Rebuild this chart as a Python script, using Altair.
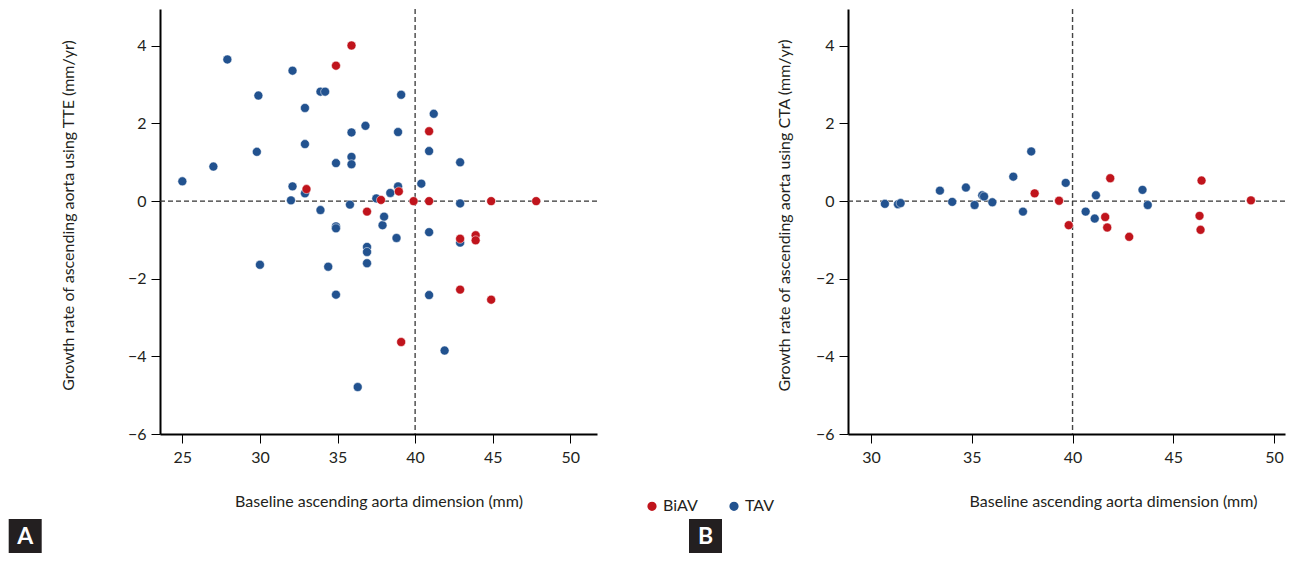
import altair as alt
import pandas as pd

# ---- Panel A: TTE ----
tte_tav_x = [25.0, 27.0, 27.9, 29.8, 29.9, 30.0, 32.1, 32.1, 32.0, 32.9, 32.9, 32.9,
             33.9, 34.2, 33.9, 34.4, 34.9, 34.9, 34.9, 34.9, 35.9, 35.9, 35.9, 35.8,
             36.3, 36.8, 36.9, 36.9, 36.9, 37.5, 37.9, 38.0, 38.4, 38.9, 38.9, 39.1,
             38.8, 40.4, 40.9, 41.2, 40.9, 40.9, 41.9, 42.9, 42.9, 42.9]
tte_tav_y = [0.51, 0.89, 3.65, 1.27, 2.72, -1.64, 3.36, 0.38, 0.02, 0.20, 2.40, 1.47,
             2.82, 2.82, -0.23, -1.69, 0.98, -0.65, -0.70, -2.41, 1.77, 1.14, 0.95, -0.09,
             -4.79, 1.94, -1.18, -1.31, -1.60, 0.07, -0.62, -0.40, 0.21, 0.38, 1.78, 2.74,
             -0.95, 0.45, 1.29, 2.25, -0.80, -2.42, -3.85, 1.00, -0.06, -1.07]
tte_biav_x = [33.0, 34.9, 35.9, 36.9, 37.8, 38.95, 39.1, 39.9, 40.9, 40.9, 42.9, 42.9,
              43.9, 43.9, 44.9, 44.9, 47.8]
tte_biav_y = [0.31, 3.49, 4.01, -0.27, 0.03, 0.25, -3.63, 0.0, 1.80, 0.0, -0.97, -2.28,
              -0.88, -1.01, 0.0, -2.54, 0.0]

# ---- Panel B: CTA ----
cta_tav_x = [30.69, 31.34, 31.47, 33.42, 34.03, 34.71, 35.14, 35.52, 35.61, 36.02,
             37.06, 37.54, 37.95, 39.66, 40.65, 41.16, 41.10, 43.47, 43.73]
cta_tav_y = [-0.07, -0.08, -0.05, 0.27, -0.02, 0.35, -0.10, 0.15, 0.12, -0.03,
             0.63, -0.27, 1.28, 0.47, -0.27, 0.15, -0.45, 0.29, -0.10]
cta_biav_x = [38.12, 39.33, 39.81, 41.87, 41.62, 41.72, 42.81, 46.40, 46.30, 46.35, 48.85]
cta_biav_y = [0.20, 0.01, -0.62, 0.59, -0.41, -0.68, -0.92, 0.53, -0.38, -0.74, 0.02]

groups = ["BiAV", "TAV"]
colors = ["#C0141C", "#22528F"]
y_ticks = [-6, -4, -2, 0, 2, 4]
xa_ticks = [25, 30, 35, 40, 45, 50]
xb_ticks = [30, 35, 40, 45, 50]

FONT = "Lato"
INK = "#231f20"
W, H = 437, 425


def frame(tx, ty, bx, by):
    rows = [{"x": a, "y": b, "group": "TAV"} for a, b in zip(tx, ty)]
    rows += [{"x": a, "y": b, "group": "BiAV"} for a, b in zip(bx, by)]
    return pd.DataFrame(rows)


def panel(df, xdom, xticks, ytitle, ytitle_x, xtitle_x, letter, box_x, legend):
    xs = alt.Scale(domain=xdom, nice=False, zero=False)
    ys = alt.Scale(domain=[-6, 4.95], nice=False, zero=False)
    one = alt.Data(values=[{}])
    vline = alt.Chart(one).mark_rule(color="#444", strokeDash=[5, 3], strokeWidth=1.4).encode(
        x=alt.X(datum=40, scale=xs, type="quantitative"))
    hline = alt.Chart(one).mark_rule(color="#333", strokeDash=[5, 3], strokeWidth=1.4).encode(
        y=alt.Y(datum=0, scale=ys, type="quantitative"))
    if legend:
        leg = alt.Legend(title=None, orient="none", legendX=-204, legendY=489,
                         direction="horizontal", symbolType="circle", symbolSize=115,
                         labelFont=FONT, labelFontSize=16, labelColor=INK,
                         labelOffset=3, columnPadding=27, padding=0)
    else:
        leg = None
    pts = alt.Chart(df).mark_circle(size=80, opacity=1, stroke="white", strokeWidth=0.5).encode(
        x=alt.X("x:Q", scale=xs,
                axis=alt.Axis(values=xticks, title="Baseline ascending aorta dimension (mm)",
                              titleX=xtitle_x, titleY=72, titleBaseline="alphabetic")),
        y=alt.Y("y:Q", scale=ys,
                axis=alt.Axis(values=y_ticks, title=ytitle, titleX=ytitle_x, titleY=206,
                              titleBaseline="middle", labelPadding=5)),
        color=alt.Color("group:N", scale=alt.Scale(domain=groups, range=colors), legend=leg),
    )
    box = alt.Chart(one).mark_rect(color=INK).encode(
        x=alt.value(box_x), x2=alt.value(box_x + 33), y=alt.value(510), y2=alt.value(544))
    lab = alt.Chart(one).mark_text(text=letter, color="white", font=FONT, fontSize=23,
                                   fontWeight="bold", align="center", baseline="middle").encode(
        x=alt.value(box_x + 16.5), y=alt.value(528))
    return alt.layer(vline, hline, pts, box, lab).properties(width=W, height=H)


left = panel(frame(tte_tav_x, tte_tav_y, tte_biav_x, tte_biav_y), [23.56, 51.72], xa_ticks,
             "Growth rate of ascending aorta using TTE (mm/yr)", -92, W / 2, "A", -151.3, False)
right = panel(frame(cta_tav_x, cta_tav_y, cta_biav_x, cta_biav_y), [28.86, 50.54], xb_ticks,
              "Growth rate of ascending aorta using CTA (mm/yr)", -64, 265, "B", -159, True)

chart = alt.hconcat(left, right, spacing=46).resolve_scale(
    color="independent", x="independent", y="independent"
).properties(padding=0).configure_view(stroke=None).configure_axis(
    grid=False, domainColor="black", domainWidth=2, tickColor="black", tickWidth=1,
    tickSize=9, labelFont=FONT, labelFontSize=16, labelColor=INK, titleFont=FONT,
    titleFontSize=16, titleFontWeight="normal", titleColor=INK, labelFlush=False,
).configure_axisX(labelPadding=6)

chart.save("out.html", embed_options={"renderer": "svg", "actions": False})
